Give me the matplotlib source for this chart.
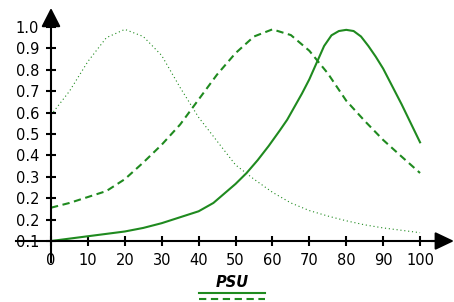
"""
Three PSU response curves on arrow-style axes
"""
import numpy as np
import matplotlib
matplotlib.use('Agg')
import matplotlib.pyplot as plt

plt.rc('font', family='DejaVu Sans')

# values
x_solid = [0, 5, 10, 15, 20, 25, 30, 35, 40, 44, 50, 53, 56, 59, 62, 64, 66, 68, 70, 72, 74, 76, 78, 80,
           82, 84, 86, 88, 90, 95, 100]
y_solid = [0.10, 0.11, 0.12, 0.13, 0.14, 0.155, 0.175, 0.20, 0.225, 0.26, 0.34, 0.386, 0.44, 0.50,
           0.565, 0.61, 0.665, 0.72, 0.78, 0.85, 0.92, 0.965, 0.983, 0.988, 0.983, 0.96, 0.92, 0.875,
           0.825, 0.675, 0.515]
x_dash = [0, 5, 10, 15, 20, 25, 30, 35, 40, 45, 50, 55, 60, 65, 70, 75, 80, 85, 90, 95, 100]
y_dash = [0.24, 0.26, 0.285, 0.31, 0.36, 0.43, 0.505, 0.59, 0.695, 0.80, 0.89, 0.96, 0.99, 0.966, 0.90,
          0.805, 0.69, 0.605, 0.525, 0.455, 0.386]
x_dot = [0, 5, 10, 15, 20, 25, 30, 35, 40, 45, 50, 55, 60, 65, 70, 75, 80, 85, 90, 95, 100]
y_dot = [0.63, 0.73, 0.855, 0.955, 0.99, 0.96, 0.88, 0.745, 0.62, 0.52, 0.42, 0.36, 0.305, 0.26, 0.228,
         0.205, 0.185, 0.168, 0.155, 0.145, 0.135]

x_ticks = [0, 10, 20, 30, 40, 50, 60, 70, 80, 90, 100]
y_tick_labels = ['0.1', '0.2', '0.2', '0.3', '0.4', '0.5', '0.6', '0.7', '0.8', '0.9', '1.0']
legend_title = 'PSU'

green = '#1f8a1f'

fig = plt.figure(figsize=(4.54, 3.02), dpi=100)
ax = fig.add_axes([0, 0, 1, 1])
ax.set_xlim(-13.82, 109.2)
ax.set_ylim(-0.1565, 1.1135)

l1, = ax.plot(x_solid, y_solid, color=green, lw=1.5, solid_joinstyle='round')
l2, = ax.plot(x_dash, y_dash, color=green, lw=1.5, linestyle=(0, (3.5, 2.2)))
l3, = ax.plot(x_dot, y_dot, color=green, lw=0.8, linestyle=(0, (1, 2.5)))

for s in ['top', 'right']:
    ax.spines[s].set_visible(False)
ax.spines['left'].set_position(('data', 0))
ax.spines['bottom'].set_position(('data', 0.1))
ax.spines['left'].set_bounds(0.01, 1.02)
ax.spines['bottom'].set_bounds(-9.5, 104)
ax.spines['left'].set_linewidth(1.5)
ax.spines['bottom'].set_linewidth(1.5)

ax.set_xticks(x_ticks)
ax.set_xticklabels([str(v) for v in x_ticks])
ax.set_yticks(np.linspace(0.1, 1.0, len(y_tick_labels)))
ax.set_yticklabels(y_tick_labels)
ax.tick_params(direction='inout', length=7, width=1.5, labelsize=10.5, pad=5)

# arrow heads
ax.annotate('', xy=(109.2, 0.1), xytext=(103, 0.1),
            arrowprops=dict(arrowstyle='-|>,head_length=0.82,head_width=0.39', mutation_scale=14,
                            color='black', lw=1.5, shrinkA=0, shrinkB=0))
ax.annotate('', xy=(0, 1.08), xytext=(0, 1.01),
            arrowprops=dict(arrowstyle='-|>,head_length=0.82,head_width=0.42', mutation_scale=14,
                            color='black', lw=1.5, shrinkA=0, shrinkB=0))

leg = fig.legend([l1, l2, l3], ['', '', ''], title=legend_title, loc='upper center',
                 bbox_to_anchor=(232 / 454, 1 - 273 / 302), frameon=False, fontsize=3,
                 handlelength=15.8, handleheight=0.5, handletextpad=0, borderpad=0,
                 labelspacing=0.4,
                 title_fontproperties={'weight': 'bold', 'style': 'italic', 'size': 10.5})

fig.savefig('out.png', dpi=100)
